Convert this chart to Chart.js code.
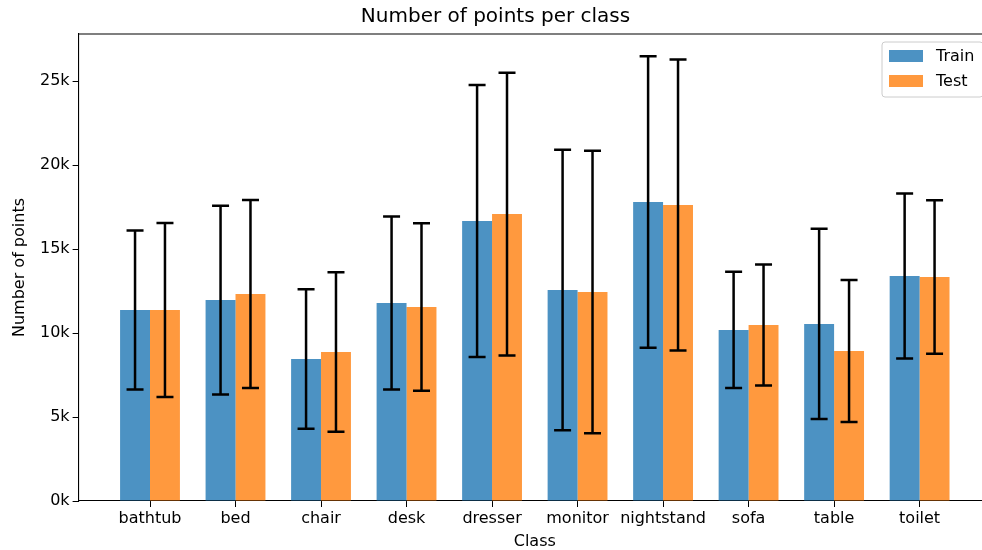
<!DOCTYPE html>
<html>
<head>
<meta charset="utf-8">
<script src="https://cdn.jsdelivr.net/npm/chart.js@4/dist/chart.umd.min.js"></script>
<style>
  html, body { margin: 0; padding: 0; background: #fff; overflow: hidden; }
  #wrap { position: relative; width: 1000px; height: 550px; }
</style>
</head>
<body>
<div id="wrap"><canvas id="c" width="1000" height="550"></canvas></div>
<script>
// Classes and per-class point counts (mean and standard deviation)
const categories = ['bathtub', 'bed', 'chair', 'desk', 'dresser', 'monitor', 'nightstand', 'sofa', 'table', 'toilet'];
const trainMean = [11370, 11960, 8450, 11790, 16670, 12560, 17800, 10180, 10540, 13390];
const trainStd  = [4730, 5620, 4150, 5150, 8100, 8350, 8680, 3460, 5660, 4910];
const testMean  = [11370, 12320, 8870, 11550, 17080, 12440, 17620, 10480, 8930, 13330];
const testStd   = [5180, 5600, 4750, 4980, 8420, 8410, 8660, 3600, 4230, 4570];
const yTicks    = [0, 5000, 10000, 15000, 20000, 25000];

const FONT = "'DejaVu Sans', sans-serif";
const TRAIN_COLOR = 'rgba(31,119,180,0.8)';
const TEST_COLOR = 'rgba(255,127,14,0.8)';

const stds = [trainStd, testStd];

// Symmetric error bars (mean ± std) with caps
const errorBars = {
  id: 'errorBars',
  afterDatasetsDraw(chart) {
    const ctx = chart.ctx;
    const y = chart.scales.y;
    ctx.save();
    ctx.strokeStyle = '#000';
    ctx.lineWidth = 2.5;
    chart.data.datasets.forEach((ds, i) => {
      const meta = chart.getDatasetMeta(i);
      meta.data.forEach((el, j) => {
        const m = ds.data[j].y, s = stds[i][j];
        const yt = y.getPixelForValue(m + s);
        const yb = y.getPixelForValue(m - s);
        const x = el.x;
        ctx.beginPath();
        ctx.moveTo(x, yt); ctx.lineTo(x, yb);
        ctx.moveTo(x - 8.5, yt); ctx.lineTo(x + 8.5, yt);
        ctx.moveTo(x - 8.5, yb); ctx.lineTo(x + 8.5, yb);
        ctx.stroke();
      });
    });
    ctx.restore();
  }
};

// Axes frame (top and right spines) and an in-plot legend box
const frameAndLegend = {
  id: 'frameAndLegend',
  afterDraw(chart) {
    const ctx = chart.ctx;
    const a = chart.chartArea;
    ctx.save();
    ctx.strokeStyle = '#000';
    ctx.lineWidth = 1.1;
    ctx.beginPath();
    ctx.moveTo(a.left, a.top); ctx.lineTo(a.right, a.top); ctx.lineTo(a.right, a.bottom);
    ctx.stroke();

    // legend
    const bx = 882, by = 42, bw = 101, bh = 55, r = 3;
    ctx.fillStyle = 'rgba(255,255,255,0.8)';
    ctx.strokeStyle = '#cccccc';
    ctx.lineWidth = 1;
    ctx.beginPath();
    ctx.moveTo(bx + r, by);
    ctx.lineTo(bx + bw - r, by); ctx.quadraticCurveTo(bx + bw, by, bx + bw, by + r);
    ctx.lineTo(bx + bw, by + bh - r); ctx.quadraticCurveTo(bx + bw, by + bh, bx + bw - r, by + bh);
    ctx.lineTo(bx + r, by + bh); ctx.quadraticCurveTo(bx, by + bh, bx, by + bh - r);
    ctx.lineTo(bx, by + r); ctx.quadraticCurveTo(bx, by, bx + r, by);
    ctx.closePath();
    ctx.fill(); ctx.stroke();

    const items = chart.data.datasets.map(d => ({ label: d.label, color: d.backgroundColor }));
    ctx.font = '16px ' + FONT;
    ctx.textBaseline = 'middle';
    ctx.textAlign = 'left';
    items.forEach((it, k) => {
      const cy = 56 + k * 25;
      ctx.fillStyle = it.color;
      ctx.fillRect(889, cy - 6, 34, 12);
      ctx.fillStyle = '#000';
      ctx.fillText(it.label, 936, cy + 1);
    });
    ctx.restore();
  }
};

new Chart(document.getElementById('c'), {
  type: 'bar',
  data: {
    datasets: [
      { label: 'Train', data: trainMean.map((v, i) => ({ x: i, y: v })), backgroundColor: TRAIN_COLOR },
      { label: 'Test',  data: testMean.map((v, i) => ({ x: i, y: v })),  backgroundColor: TEST_COLOR }
    ]
  },
  options: {
    responsive: false,
    animation: false,
    layout: { padding: { left: 0, right: 9, top: 0, bottom: 0 } },
    datasets: { bar: { categoryPercentage: 0.7, barPercentage: 1.0, borderWidth: 0 } },
    plugins: {
      legend: { display: false },
      tooltip: { enabled: false },
      title: {
        display: true,
        text: 'Number of points per class',
        color: '#000',
        font: { family: FONT, size: 20, weight: 'normal' },
        padding: { top: 5, bottom: 5 }
      }
    },
    scales: {
      x: {
        type: 'linear',
        offset: false,
        min: -0.835,
        max: 9.835,
        afterBuildTicks(scale) { scale.ticks = categories.map((c, i) => ({ value: i })); },
        afterFit(scale) { scale.height = 49; },
        ticks: {
          autoSkip: false,
          maxRotation: 0,
          color: '#000',
          padding: 2,
          font: { family: FONT, size: 16 },
          callback: (v) => categories[v]
        },
        grid: { display: true, offset: false, drawOnChartArea: false, drawTicks: true, tickLength: 6, color: '#000', tickWidth: 1 },
        border: { display: true, color: '#000', width: 1.1 },
        title: {
          display: true,
          text: 'Class',
          color: '#000',
          font: { family: FONT, size: 16, lineHeight: 1.0 },
          padding: { top: 0, bottom: 0 }
        }
      },
      y: {
        min: 0,
        max: 27800,
        afterBuildTicks(scale) { scale.ticks = yTicks.map(v => ({ value: v })); },
        afterFit(scale) { scale.width = 78.6; },
        ticks: {
          color: '#000',
          padding: 3,
          font: { family: FONT, size: 16 },
          callback: (v) => (v / 1000) + 'k'
        },
        grid: { display: true, drawOnChartArea: false, drawTicks: true, tickLength: 6, color: '#000', tickWidth: 1 },
        border: { display: true, color: '#000', width: 1.1 },
        title: {
          display: true,
          text: 'Number of points',
          color: '#000',
          font: { family: FONT, size: 16 },
          padding: { top: 10, bottom: 4 }
        }
      }
    }
  },
  plugins: [errorBars, frameAndLegend]
});
</script>
</body>
</html>
